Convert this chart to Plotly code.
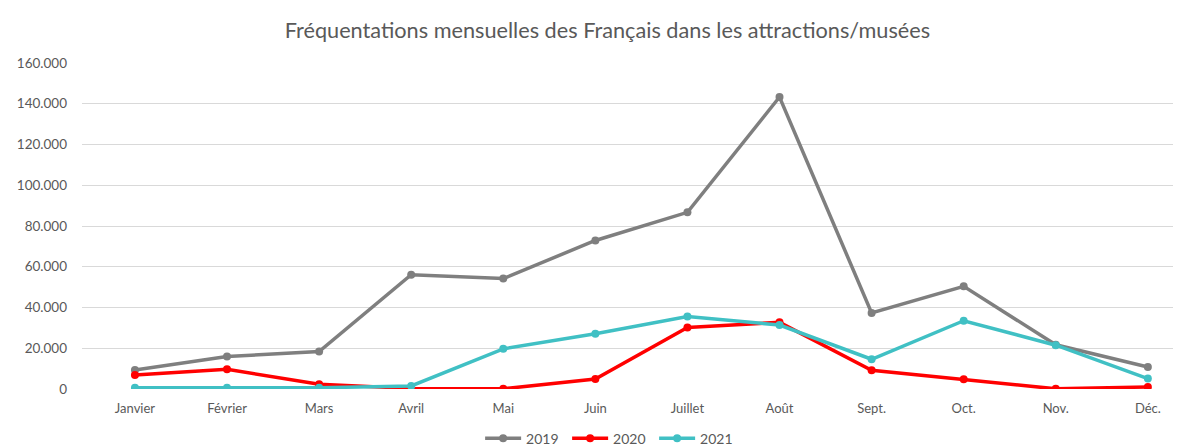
import plotly.graph_objects as go

months = ["Janvier", "Février", "Mars", "Avril", "Mai", "Juin", "Juillet", "Août", "Sept.", "Oct.", "Nov.", "Déc."]
v2019 = [9300, 15900, 18400, 56100, 54200, 72900, 86700, 143300, 37300, 50400, 21700, 10800]
v2020 = [6900, 9700, 2300, 300, 100, 4900, 30200, 32700, 9200, 4800, 100, 1000]
v2021 = [600, 600, 600, 1500, 19700, 27100, 35600, 31400, 14600, 33500, 21500, 5100]

series = [("2019", v2019, "#7f7f7f"), ("2020", v2020, "#ff0000"), ("2021", v2021, "#40c0c4")]

fig = go.Figure()
for name, vals, col in series:
    fig.add_trace(go.Scatter(
        x=list(range(len(months))), y=vals, name=name, mode="lines+markers",
        line=dict(color=col, width=3.5), marker=dict(color=col, size=8),
    ))

fig.update_layout(
    width=1173, height=439,
    margin=dict(l=74, r=0, t=55, b=58, autoexpand=False),
    paper_bgcolor="white", plot_bgcolor="white",
    separators=",.",
    title=dict(text="Fréquentations mensuelles des Français dans les attractions/musées",
               x=0.511, xanchor="center", y=0.95, yanchor="middle",
               font=dict(family="Lato", size=21.7, color="#595959")),
    font=dict(family="Lato", size=13, color="#595959"),
    legend=dict(orientation="h", x=0.481, xanchor="center", yref="container", y=0.019, yanchor="middle",
                font=dict(size=14, color="#595959"), traceorder="normal",
                entrywidth=36, itemwidth=36),
    showlegend=True,
)
fig.update_xaxes(
    range=[-0.575, 11.36], tickmode="array", tickvals=list(range(len(months))), ticktext=months,
    showgrid=False, zeroline=False, showline=False, ticks="", ticklabelstandoff=10,
    tickfont=dict(size=13, color="#595959"),
)
fig.update_yaxes(
    range=[0, 160000], dtick=20000, tickformat=",d", showgrid=True, gridcolor="#d9d9d9", gridwidth=1,
    zeroline=False, showline=False, ticks="", ticklabelstandoff=14, tickfont=dict(size=13.5, color="#595959"),
)

fig.write_html("out.html")
